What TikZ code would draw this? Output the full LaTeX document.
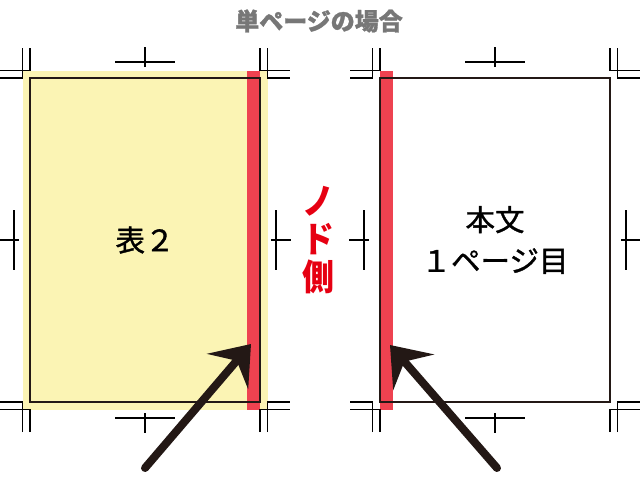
\documentclass[tikz,border=0pt]{standalone}
\usepackage{fontspec}
\newfontfamily\jpfont{Noto Sans CJK JP}
\newfontfamily\jpheavy{Noto Sans CJK JP}[FakeBold=1.2]
\usetikzlibrary{arrows.meta}

\definecolor{bleedyellow}{RGB}{251,244,180}
\definecolor{gutterred}{RGB}{238,66,80}
\definecolor{nodored}{RGB}{230,0,18}
\definecolor{trimline}{RGB}{35,24,21}
\definecolor{titlegray}{RGB}{119,119,119}

% corner mark: trim x, trim y, outward x sign, outward y sign
\newcommand{\cornermark}[4]{%
  \draw[tombo] ({#1},{#2+(#4)*30}) -- ({#1},{#2+(#4)*7.5}) -- ({#1+(#3)*30},{#2+(#4)*7.5});
  \draw[tombo] ({#1+(#3)*7.5},{#2+(#4)*30}) -- ({#1+(#3)*7.5},{#2}) -- ({#1+(#3)*30},{#2});
}
% centre marks above/below (x, trim y, sign) and beside (trim x, y, sign)
\newcommand{\hcentermark}[3]{%
  \draw[tombo] ({#1-30},{#2+(#3)*16}) -- ({#1+30},{#2+(#3)*16});
  \draw[tombo] ({#1},{#2+(#3)*11}) -- ({#1},{#2+(#3)*31});
}
\newcommand{\vcentermark}[3]{%
  \draw[tombo] ({#1+(#3)*11},{#2}) -- ({#1+(#3)*31},{#2});
  \draw[tombo] ({#1+(#3)*16},{#2-30}) -- ({#1+(#3)*16},{#2+30});
}

\begin{document}
\begin{tikzpicture}[
    x=1pt, y=-1pt,
    font=\jpfont,
    tombo/.style={draw=black,line width=1.3pt},
    page/.style={draw=trimline,line width=2pt,minimum width=230pt,minimum height=324pt,inner sep=0pt},
    bleed/.style={fill=bleedyellow,minimum width=245pt,minimum height=339pt,inner sep=0pt},
    gutter/.style={fill=gutterred},
    pointer/.style={draw=trimline,line width=8pt,line cap=round,-{Stealth[length=36pt,width=54pt,inset=14pt]}},
    pagetext/.style={font=\jpheavy\fontsize{29.5}{41}\selectfont,align=center}
    ]
    \useasboundingbox (0,0) rectangle (640,480);

    \node[font=\jpheavy\bfseries\fontsize{24}{24}\selectfont,text=titlegray] (title) at (319,21) {単ページの場合};

    % left page (cover 2)
    \node[bleed] (bleedL) at (145,240) {};
    \fill[gutter] (247,70.5) rectangle (260,409.5);
    \node[page,pagetext] (cover) at (145,240) {表２};

    % right page (body p.1)
    \fill[gutter] (380,70.5) rectangle (393,409.5);
    \node[page,pagetext] (body) at (495,240) {本文\\１ページ目};

    \node[font=\jpfont\bfseries\fontsize{32}{34}\selectfont,text=nodored,align=center,
          yscale=1.12,transform shape] (gutterlabel) at (318,240) {ノ\\ド\\側};

    % crop marks
    \cornermark{30}{78}{-1}{-1}
    \cornermark{260}{78}{1}{-1}
    \cornermark{30}{402}{-1}{1}
    \cornermark{260}{402}{1}{1}
    \cornermark{380}{78}{-1}{-1}
    \cornermark{610}{78}{1}{-1}
    \cornermark{380}{402}{-1}{1}
    \cornermark{610}{402}{1}{1}
    \hcentermark{145}{78}{-1}
    \hcentermark{145}{402}{1}
    \hcentermark{495}{78}{-1}
    \hcentermark{495}{402}{1}
    \vcentermark{30}{240}{-1}
    \vcentermark{260}{240}{1}
    \vcentermark{380}{240}{-1}
    \vcentermark{610}{240}{1}

    % arrows
    \coordinate (tailL) at (145,468);
    \coordinate (tipL) at (251,344);
    \coordinate (tailR) at (497,468);
    \coordinate (tipR) at (390,345);
    \draw[pointer] (tailL) -- (tipL);
    \draw[pointer] (tailR) -- (tipR);
\end{tikzpicture}
\end{document}
